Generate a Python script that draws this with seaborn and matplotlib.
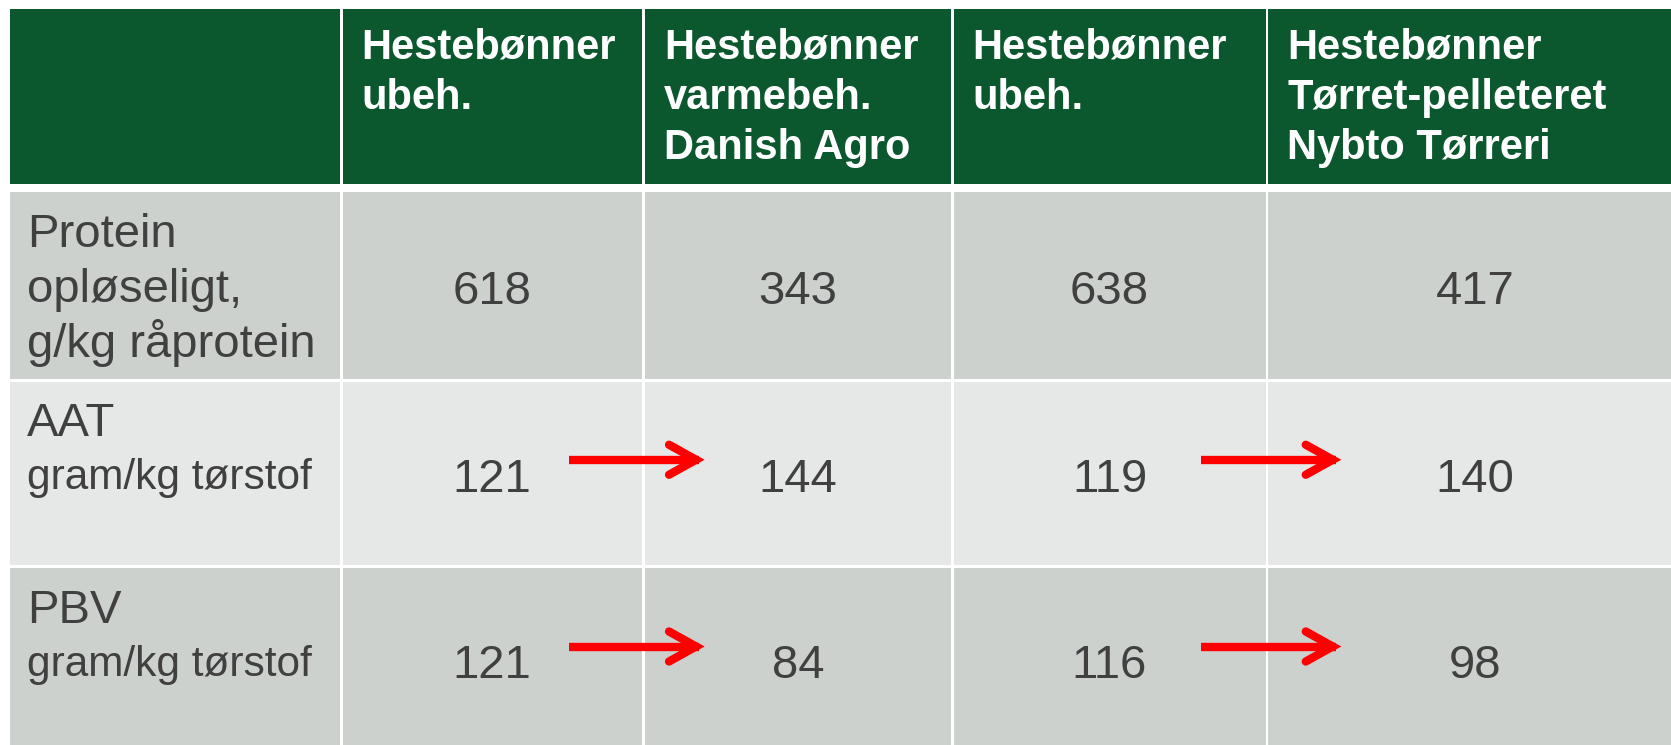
"""Feed value table for horse beans (hestebønner), drawn as a seaborn/matplotlib table
"""

import matplotlib
matplotlib.use("Agg")
import matplotlib.pyplot as plt
from matplotlib.patches import Rectangle
import seaborn as sns
import pandas as pd

sns.set_style("white")
plt.rcParams['font.family'] = ['Liberation Sans', 'DejaVu Sans']

# Table content
columns = ["Hestebønner\nubeh.",
           "Hestebønner\nvarmebeh.\nDanish Agro",
           "Hestebønner\nubeh.",
           "Hestebønner\nTørret-pelleteret\nNybto Tørreri"]
row_titles = ["Protein\nopløseligt,\ng/kg råprotein", "AAT", "PBV"]
row_units = ["", "gram/kg tørstof", "gram/kg tørstof"]
protein = [618, 343, 638, 417]
aat = [121, 144, 119, 140]
pbv = [121, 84, 116, 98]
# arrows: (row, from column, to column)
arrows = [(1, 0, 1), (1, 2, 3), (2, 0, 1), (2, 2, 3)]

data = pd.DataFrame([protein, aat, pbv], columns=range(4))

# Colours
green = "#0b572e"
grey_dark = "#ccd1cd"
grey_light = "#e6e8e7"
txt = "#404040"
red = "#ff0000"
row_fill = [grey_dark, grey_light, grey_dark]

# Layout, in pixels of the output picture
W, H = 1671, 745
col_edges = [(9.5, 339.5), (342.5, 642), (645, 950.5), (953.5, 1265.5), (1268, 1682)]
row_edges = [(8.5, 184), (192, 379), (381.5, 565), (568, 752)]
arrow_end_frac = [0.69, 0.63]

fig = plt.figure(figsize=(W / 100, H / 100), dpi=100)
ax = fig.add_axes([0, 0, 1, 1])
ax.set_xlim(0, W)
ax.set_ylim(H, 0)
ax.axis("off")


def cell(ci, ri, color):
    x0, x1 = col_edges[ci]
    y0, y1 = row_edges[ri]
    ax.add_patch(Rectangle((x0, y0), x1 - x0, y1 - y0, color=color, lw=0))


def center(ci):
    return sum(col_edges[ci]) / 2


# header row
for ci in range(5):
    cell(ci, 0, green)
for j, name in enumerate(columns):
    x0 = col_edges[j + 1][0] + 19
    for k, line in enumerate(name.split("\n")):
        ax.text(x0, 58.5 + k * 50.5, line, color="white", fontsize=30,
                fontweight="bold", va="baseline", ha="left")

# body rows
for i in range(3):
    r = i + 1
    for ci in range(5):
        cell(ci, r, row_fill[i])
    ytop = row_edges[r][0]
    lines = row_titles[i].split("\n")
    for k, line in enumerate(lines):
        ax.text(27, ytop + 55 + k * 55, line, color=txt, fontsize=34,
                va="baseline", ha="left")
    if row_units[i]:
        ax.text(27, ytop + 55 + len(lines) * 53, row_units[i], color=txt,
                fontsize=30.5, va="baseline", ha="left")
    ymid = sum(row_edges[r]) / 2
    for j in range(4):
        ax.text(center(j + 1), ymid + 18.5, str(data.iloc[i, j]), color=txt,
                fontsize=34, va="baseline", ha="center")

# red arrows between values
for n, (r, a, b) in enumerate(arrows):
    ca, cb = center(a + 1), center(b + 1)
    xs = ca + 0.25 * (cb - ca)
    xe = ca + arrow_end_frac[a // 2] * (cb - ca)
    y = sum(row_edges[r + 1]) / 2 - 13.5
    ax.plot([xs, xe - 4], [y, y], color=red, lw=6, solid_capstyle="butt")
    ax.plot([xe - 34, xe - 7, xe - 34], [y - 15, y, y + 15], color=red, lw=6,
            solid_capstyle="round", solid_joinstyle="miter")

fig.savefig("out.png", dpi=100)
